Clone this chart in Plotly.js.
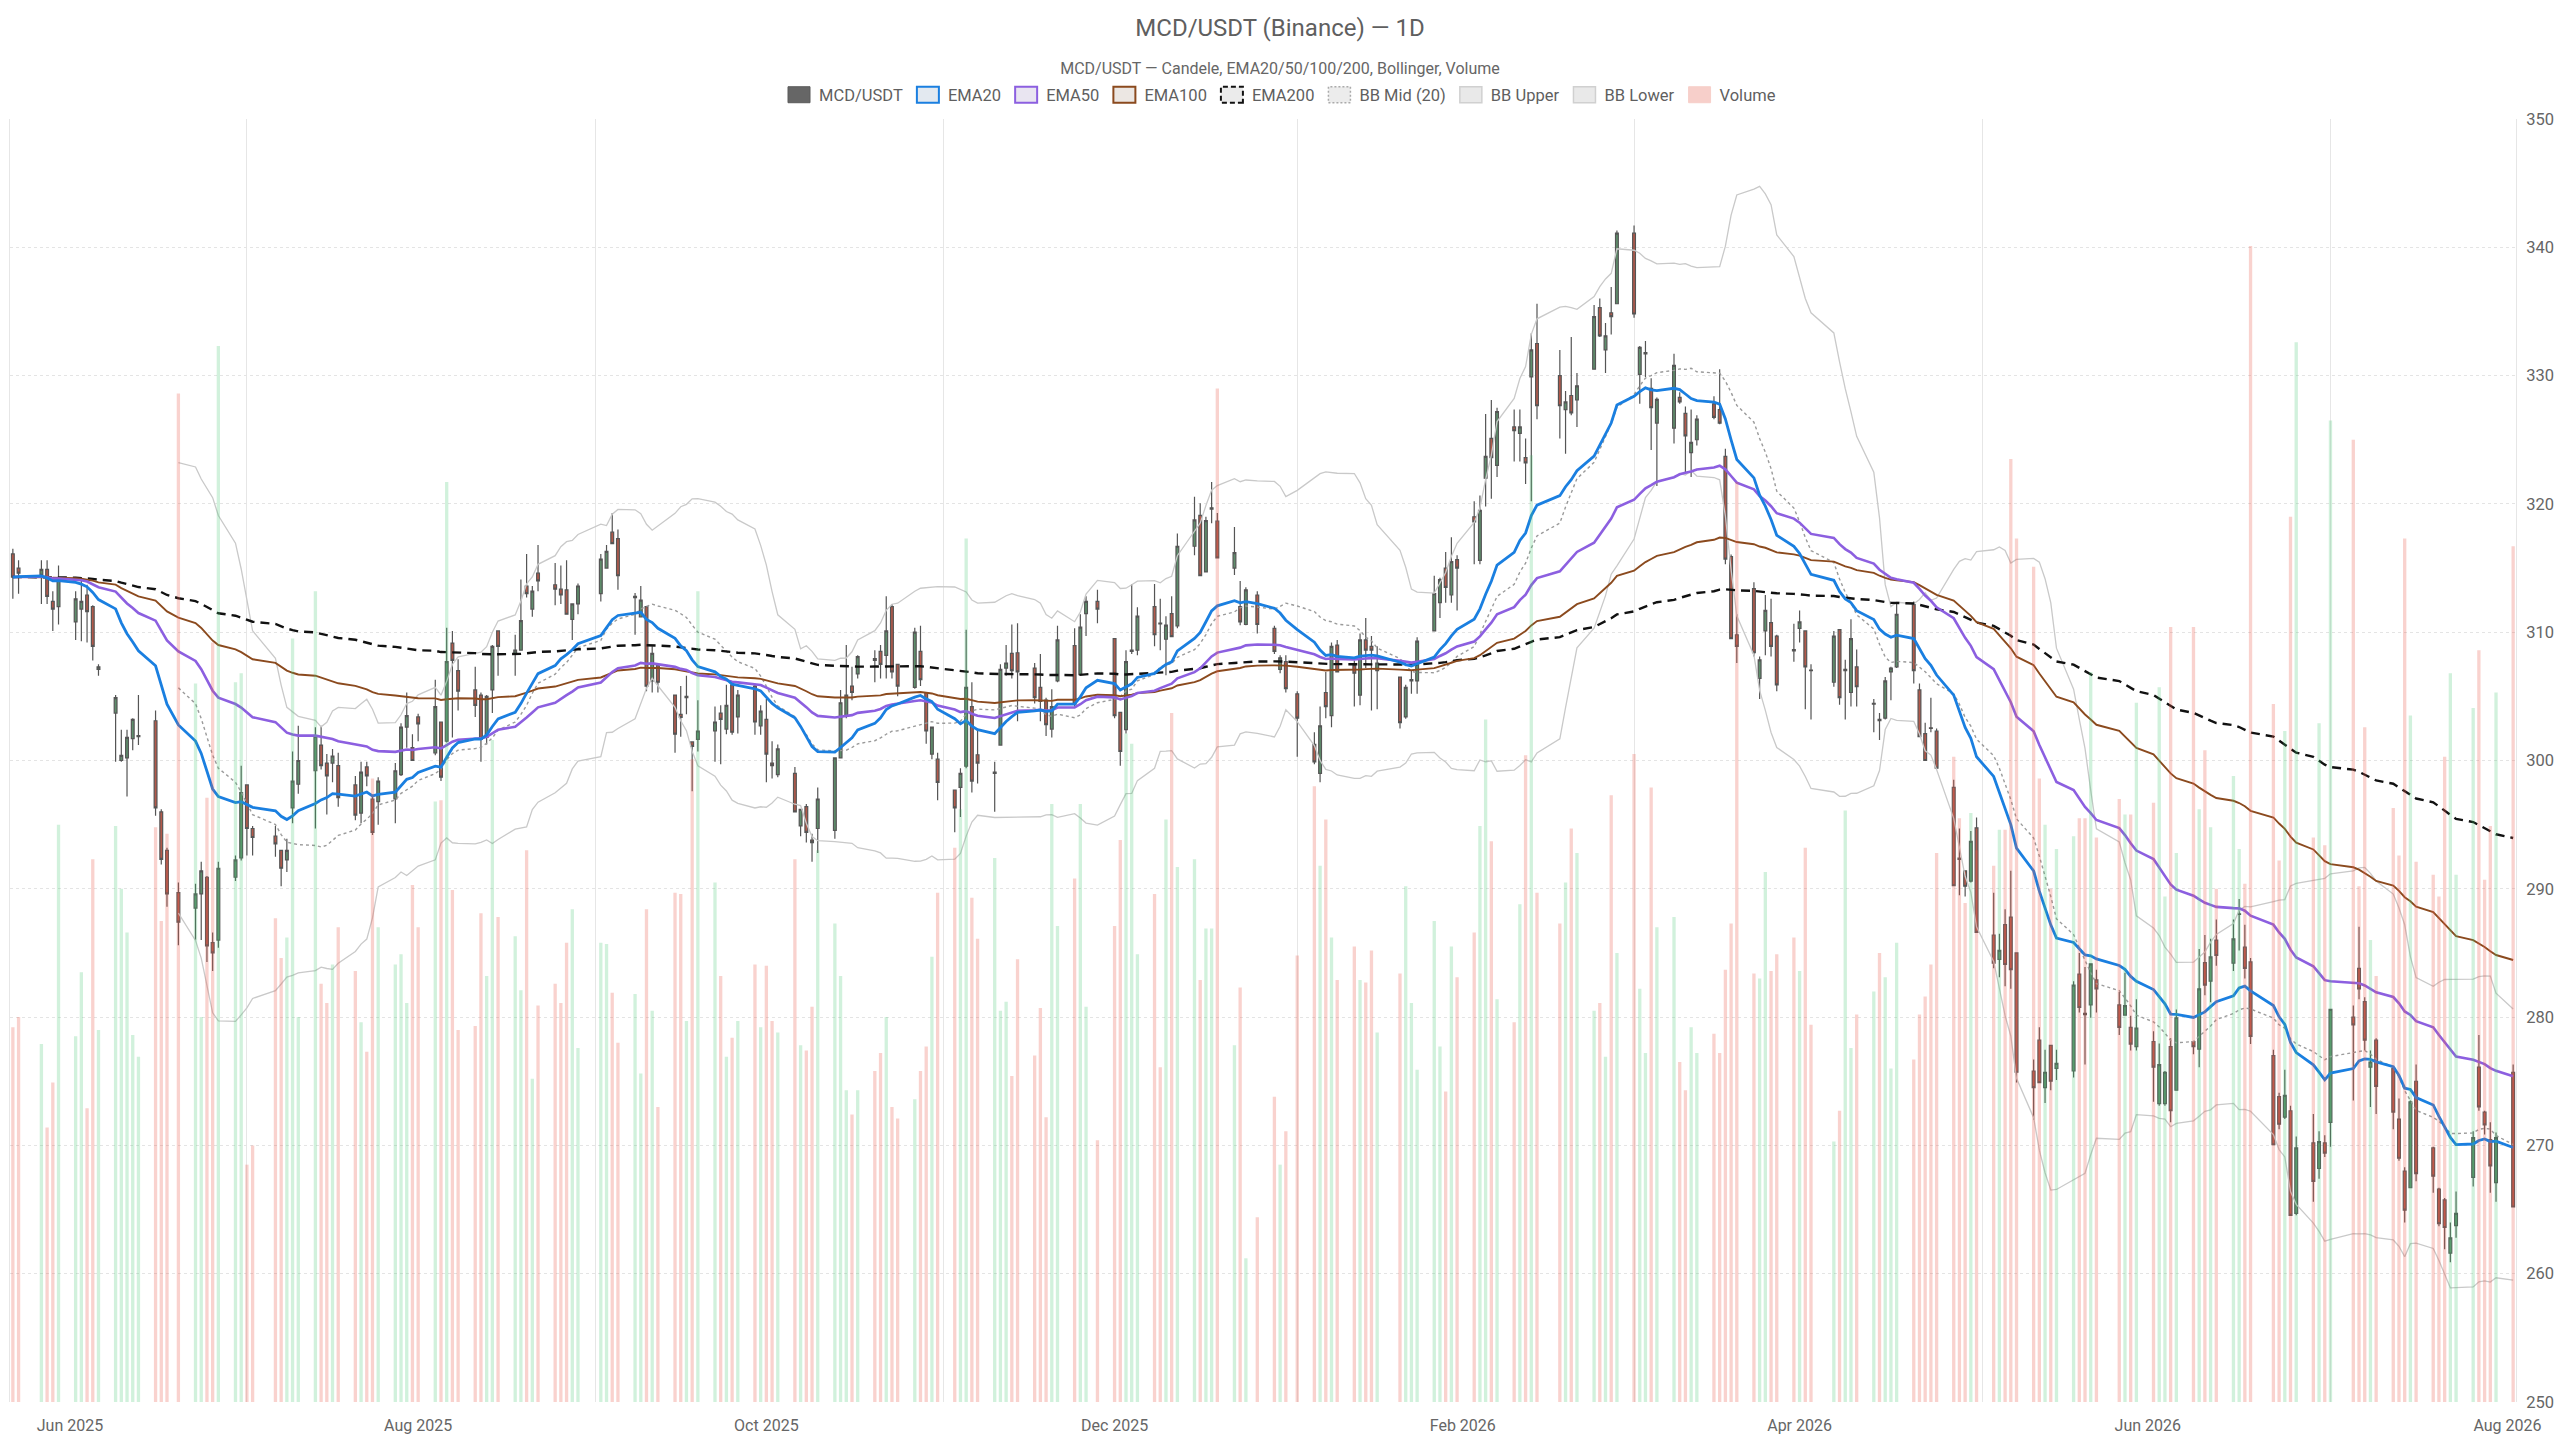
<!DOCTYPE html>
<html>
<head>
<meta charset="utf-8">
<script src="https://cdn.plot.ly/plotly-3.0.1.min.js"></script>
<style>
  html, body { margin: 0; padding: 0; background: #fff; }
  #chart { width: 2560px; height: 1440px; }
</style>
</head>
<body>
<div id="chart"></div>
<script>
const dates = [
  '2025-06-21','2025-06-22','2025-06-26','2025-06-27','2025-06-28','2025-06-29',
  '2025-07-02','2025-07-03','2025-07-04','2025-07-05','2025-07-06','2025-07-09','2025-07-10','2025-07-11','2025-07-12','2025-07-13',
  '2025-07-16','2025-07-17','2025-07-18','2025-07-20','2025-07-23','2025-07-24','2025-07-25','2025-07-26','2025-07-27','2025-07-30','2025-07-31',
  '2025-08-01','2025-08-02','2025-08-06','2025-08-07','2025-08-08','2025-08-09','2025-08-10','2025-08-13','2025-08-14','2025-08-15','2025-08-16',
  '2025-08-17','2025-08-20','2025-08-21','2025-08-22','2025-08-23','2025-08-24','2025-08-27','2025-08-28','2025-08-29','2025-08-30','2025-08-31',
  '2025-09-03','2025-09-04','2025-09-05','2025-09-06','2025-09-07','2025-09-10','2025-09-11','2025-09-12','2025-09-13','2025-09-14',
  '2025-09-17','2025-09-18','2025-09-19','2025-09-20','2025-09-21','2025-09-24','2025-09-25','2025-09-26','2025-09-27','2025-09-28',
  '2025-10-02','2025-10-03','2025-10-04','2025-10-05','2025-10-08','2025-10-09','2025-10-10','2025-10-11','2025-10-12','2025-10-15','2025-10-16',
  '2025-10-17','2025-10-18','2025-10-19','2025-10-22','2025-10-23','2025-10-24','2025-10-25','2025-10-26','2025-10-29','2025-10-30','2025-10-31',
  '2025-11-01','2025-11-02','2025-11-05','2025-11-06','2025-11-07','2025-11-08','2025-11-09','2025-11-12','2025-11-13','2025-11-14','2025-11-15',
  '2025-11-16','2025-11-19','2025-11-20','2025-11-21','2025-11-22','2025-11-23','2025-11-26','2025-11-27','2025-11-28','2025-11-29','2025-11-30',
  '2025-12-03','2025-12-04','2025-12-05','2025-12-06','2025-12-07','2025-12-10','2025-12-11','2025-12-12','2025-12-13','2025-12-14',
  '2025-12-17','2025-12-18','2025-12-19','2025-12-20','2025-12-21','2025-12-24','2025-12-25','2025-12-26','2025-12-28','2025-12-31',
  '2026-01-01','2026-01-02','2026-01-03','2026-01-04','2026-01-07','2026-01-08','2026-01-09','2026-01-10','2026-01-11','2026-01-14','2026-01-15',
  '2026-01-16','2026-01-17','2026-01-18','2026-01-21','2026-01-22','2026-01-23','2026-01-25','2026-01-28','2026-01-29','2026-01-30',
  '2026-02-01','2026-02-04','2026-02-05','2026-02-06','2026-02-07','2026-02-08','2026-02-11','2026-02-12','2026-02-13','2026-02-14',
  '2026-02-15','2026-02-19','2026-02-20','2026-02-21','2026-02-22','2026-02-25','2026-02-26','2026-02-27','2026-02-28',
  '2026-03-01','2026-03-04','2026-03-05','2026-03-06','2026-03-07','2026-03-08','2026-03-11','2026-03-12','2026-03-13','2026-03-14',
  '2026-03-15','2026-03-19','2026-03-20','2026-03-21','2026-03-22','2026-03-25','2026-03-26','2026-03-27','2026-03-28','2026-03-29',
  '2026-04-01','2026-04-02','2026-04-03','2026-04-04','2026-04-05','2026-04-08','2026-04-09','2026-04-10','2026-04-11','2026-04-12','2026-04-15',
  '2026-04-16','2026-04-17','2026-04-18','2026-04-19','2026-04-22','2026-04-23','2026-04-24','2026-04-25','2026-04-26','2026-04-29','2026-04-30',
  '2026-05-01','2026-05-02','2026-05-06','2026-05-07','2026-05-08','2026-05-09','2026-05-10','2026-05-13','2026-05-14','2026-05-15','2026-05-16',
  '2026-05-17','2026-05-20','2026-05-21','2026-05-22','2026-05-23','2026-05-24','2026-05-27','2026-05-28','2026-05-29','2026-05-30','2026-05-31',
  '2026-06-03','2026-06-04','2026-06-05','2026-06-06','2026-06-07','2026-06-10','2026-06-11','2026-06-12','2026-06-13','2026-06-14',
  '2026-06-17','2026-06-18','2026-06-19','2026-06-20','2026-06-21','2026-06-25','2026-06-26','2026-06-27','2026-06-28',
  '2026-07-01','2026-07-02','2026-07-03','2026-07-04','2026-07-05','2026-07-08','2026-07-09','2026-07-10','2026-07-11','2026-07-12','2026-07-15',
  '2026-07-16','2026-07-17','2026-07-18','2026-07-22','2026-07-23','2026-07-24','2026-07-25','2026-07-26','2026-07-29','2026-07-30','2026-07-31',
  '2026-08-01','2026-08-05','2026-08-06','2026-08-07','2026-08-08','2026-08-09','2026-08-12','2026-08-13','2026-08-14','2026-08-15','2026-08-16',
  '2026-08-19','2026-08-20','2026-08-21','2026-08-22','2026-08-23','2026-08-26','2026-08-27','2026-08-28','2026-08-29','2026-08-30',
  '2026-09-02'
];

const open = [
  316.1,315.0,314.5,314.9,312.4,312.0,310.8,311.8,312.9,312.0, 307.1,303.7,300.0,300.2,301.7,301.85,303.1,296.0,293.0,289.7,
  288.5,289.6,290.9,285.8,286.0,290.9,292.4,298.1,294.7,294.1, 293.0,292.25,296.3,298.15,299.2,301.2,299.8,299.8,299.6,298.1,
  295.9,299.5,297.0,296.8,297.0,298.9,302.6,301.0,303.4,300.6, 303.0,301.5,309.15,307.0,305.5,305.1,301.8,305.5,310.1,308.35,
  308.6,313.6,311.8,314.6,313.7,313.35,313.3,311.0,312.2,313.0, 315.0,317.8,317.3,312.7,311.2,312.0,306.2,307.4,305.1,303.6,
  304.9,301.45,301.65,302.3,303.7,302.45,305.9,303.4,305.8,302.7, 303.2,299.8,298.9,299.0,294.9,296.4,293.8,294.7,294.55,300.2,
  303.5,305.8,306.75,307.95,308.5,308.2,312.0,307.5,305.7,308.5, 305.3,300.5,300.1,297.7,297.9,299.55,304.2,300.45,299.0,301.2,
  307.2,308.35,308.4,307.2,305.7,304.7,302.45,306.2,308.95,306.7, 311.45,312.4,309.5,303.75,302.4,308.5,308.6,312.0,310.7,309.45,
  311.45,310.5,316.7,319.1,314.7,319.6,318.65,315.0,312.0,310.6, 312.9,310.3,307.1,307.7,305.2,301.25,299.0,305.3,303.5,309.0,
  307.4,305.1,309.4,308.9,307.0,306.5,303.4,306.2,306.2,310.1, 312.3,315.0,312.9,315.65,319.0,315.6,322.0,325.1,323.0,326.0,
  325.5,323.6,329.9,332.5,330.0,327.35,328.45,328.1,330.5,335.3, 332.0,334.9,335.6,341.1,330.1,331.7,329.0,326.3,325.9,328.3,
  327.05,324.0,325.0,327.8,327.35,323.7,315.9,309.8,313.4,306.4, 310.1,310.75,309.7,308.65,310.3,310.1,307.05,306.1,310.2,307.0,
  305.3,307.3,304.4,303.2,303.3,306.9,307.3,312.15,305.5,302.1, 302.55,302.3,297.9,292.4,291.4,290.6,294.75,286.4,284.5,287.2,
  287.8,285.0,275.8,278.2,274.5,277.8,276.0,275.8,283.35,280.3, 280.95,282.9,280.95,280.15,279.2,277.7,278.1,273.25,273.25,277.7,
  274.3,278.1,277.5,284.25,282.8,286.0,284.2,288.0,285.45,284.3, 277.0,273.8,272.2,272.7,264.7,270.2,268.2,270.2,271.8,280.0,
  283.8,281.2,276.1,278.2,276.0,272.05,268.0,266.7,275.0,269.8, 266.6,265.75,261.6,263.75,267.5,276.1,272.6,270.45,267.1,275.7
];

const high = [
  316.5,315.6,315.6,315.6,313.2,315.2,313.2,314.2,313.7,312.1, 307.5,305.1,302.4,302.4,303.3,305.1,303.9,296.2,293.2,290.5,
  290.4,292.1,291.0,286.6,292.1,292.6,299.6,298.1,294.9,294.9, 293.0,293.9,300.7,302.7,302.6,302.7,300.5,300.9,300.6,298.8,
  299.9,299.9,297.2,298.7,299.8,302.9,305.3,302.05,303.65,306.3, 303.0,310.35,310.1,307.9,307.3,305.3,305.1,309.0,310.1,309.8,
  314.1,316.1,313.6,316.8,315.4,315.2,315.6,312.2,313.8,316.1, 316.8,319.3,318.0,313.05,313.6,312.0,308.9,307.4,305.1,305.8,
  306.6,301.45,304.7,304.2,304.3,305.9,306.2,305.5,305.9,304.3, 304.8,301.5,301.25,299.5,296.2,296.6,294.3,297.9,300.2,305.5,
  309.0,307.3,308.2,308.6,309.0,312.8,312.2,307.5,310.35,310.5, 305.3,302.6,300.6,297.7,299.4,310.2,306.1,302.45,299.9,307.5,
  309.0,310.6,310.7,307.6,308.3,304.9,305.55,310.5,310.3,311.4, 312.8,313.3,309.5,303.75,308.6,313.75,311.95,313.75,312.6,311.25,
  312.8,317.7,320.55,320.05,319.0,321.7,319.3,318.2,314.0,313.5, 313.2,310.5,308.2,308.2,305.4,302.2,304.2,306.9,309.2,309.4,
  307.8,309.9,311.1,309.7,308.9,306.5,305.9,307.0,309.6,314.4, 314.25,316.25,317.4,316.0,320.2,320.65,327.0,328.1,327.5,327.35,
  327.35,325.1,333.3,335.6,332.0,328.8,333.0,330.2,335.5,336.0, 334.1,336.9,341.3,341.7,332.3,332.7,329.8,328.3,331.7,328.7,
  327.6,327.35,326.9,328.4,330.5,324.3,316.05,311.4,313.9,308.1, 312.9,312.6,309.8,310.65,311.7,310.1,307.5,310.1,310.2,307.85,
  311.0,308.65,304.8,303.7,306.5,307.3,312.2,312.4,306.0,302.95, 304.9,302.5,298.5,294.7,291.4,294.5,295.55,289.7,286.5,288.4,
  291.4,285.0,276.7,279.2,277.45,277.8,277.45,282.8,285.0,283.9, 284.2,283.7,281.95,283.45,280.1,281.4,278.9,277.95,275.8,278.35,
  280.6,278.1,285.3,286.4,286.1,287.6,287.6,289.2,287.2,284.6, 277.45,274.1,275.9,273.1,270.7,272.45,271.1,270.8,280.6,280.9,
  287.05,281.55,277.4,278.35,276.1,273.65,268.3,273.5,276.3,269.9, 266.7,265.9,264.0,266.4,271.1,278.6,272.7,271.8,271.0,276.3
];

const low = [
  312.6,313.0,312.2,312.2,310.1,310.6,309.4,309.3,309.2,307.8, 306.6,299.9,299.9,297.2,300.8,301.2,295.7,291.9,288.6,285.6,
  286.0,286.0,284.3,283.6,285.4,290.6,292.2,292.6,292.6,292.5, 290.2,291.3,295.1,297.4,294.7,299.3,295.8,298.3,296.4,295.35,
  295.1,298.0,294.2,295.0,295.1,298.8,301.0,300.0,301.5,300.4, 298.4,301.4,301.8,303.9,303.4,299.9,301.25,303.7,306.6,306.6,
  308.6,312.7,311.2,313.2,312.1,312.2,311.4,309.4,311.4,312.4, 315.0,316.9,313.3,309.8,311.2,305.4,305.3,305.3,300.6,301.85,
  303.6,297.6,300.7,299.9,299.7,302.05,302.0,302.1,302.0,302.0, 298.3,298.6,298.7,296.0,294.1,293.6,292.1,292.8,293.9,300.2,
  303.3,304.7,306.4,306.1,306.4,306.4,306.4,305.0,305.6,305.8, 301.3,300.1,296.9,294.4,295.6,299.4,297.5,298.2,296.0,301.2,
  306.6,306.4,303.05,304.45,303.05,301.9,301.8,306.1,304.2,306.65, 309.7,310.7,303.3,299.6,302.1,308.3,308.2,308.9,308.6,306.65,
  309.6,310.3,316.0,314.4,314.7,318.5,315.8,314.45,310.55,310.55, 309.9,308.3,306.8,305.3,300.3,299.7,298.3,303.3,302.6,306.9,
  304.2,304.3,307.2,303.9,304.0,302.5,303.25,305.2,305.2,310.1, 311.1,312.3,312.3,311.7,315.3,315.3,319.8,320.4,322.1,323.3,
  323.3,321.55,320.2,326.6,325.1,323.9,326.9,326.0,330.5,333.0, 330.2,333.2,335.6,334.5,327.8,329.9,324.2,321.4,324.7,327.8,
  322.4,322.1,324.55,326.6,326.2,315.3,309.5,307.6,308.1,304.8, 308.2,308.1,305.4,307.7,309.2,304.0,303.2,305.75,304.35,303.2,
  304.2,304.2,302.2,301.6,303.2,304.7,307.2,306.0,301.85,300.0, 302.2,299.4,290.25,289.5,289.4,290.5,286.6,283.8,283.1,282.4,
  282.2,274.9,272.0,274.9,273.3,274.3,275.1,275.3,280.35,276.3, 279.95,280.35,278.6,280.1,277.4,277.4,273.4,273.1,273.1,271.8,
  274.3,277.1,276.1,281.7,281.15,284.0,283.6,285.2,283.0,277.9, 270.05,271.25,272.05,264.55,264.55,265.6,267.4,269.1,269.9,273.5,
  281.4,277.4,273.0,272.45,271.25,268.8,264.0,266.7,267.2,266.3, 263.7,261.9,260.9,262.8,266.8,272.7,270.85,266.3,265.6,265.2
];

const close = [
  314.3,314.6,314.9,312.8,311.8,314.2,312.6,312.4,311.6,308.9, 307.3,304.9,300.4,301.8,303.2,301.95,296.3,292.3,289.6,287.4,
  289.6,291.4,285.55,285.0,291.6,292.25,297.5,294.7,294.0,293.5, 291.6,293.0,298.4,300.0,301.9,299.6,298.8,300.35,297.1,295.75,
  299.1,298.8,294.4,298.4,299.2,302.6,303.5,300.0,302.85,304.2, 298.7,307.7,307.8,305.4,304.3,301.65,305.0,308.9,308.9,308.6,
  310.9,313.0,313.2,314.0,313.35,312.9,311.4,312.2,313.6,315.7, 316.3,316.9,314.4,312.8,312.5,305.8,308.35,306.1,302.05,303.35,
  305.0,301.1,302.3,303.0,303.2,304.3,302.2,305.1,303.0,303.85, 300.5,299.6,300.9,296.0,296.2,294.4,293.6,297.0,300.2,304.5,
  305.1,305.3,308.1,307.8,307.5,310.1,306.9,305.8,310.0,306.3, 302.3,302.6,298.3,296.3,299.0,305.7,298.4,299.8,299.1,307.1,
  307.6,307.0,306.9,304.9,304.6,302.8,304.2,309.4,304.4,310.4, 312.4,311.8,303.5,300.7,307.7,308.6,311.25,309.8,310.65,310.55,
  309.65,316.7,318.75,314.4,318.7,319.7,315.8,316.2,310.8,313.3, 310.6,308.5,308.0,305.6,303.3,299.9,302.7,304.2,308.9,306.9,
  306.8,309.4,308.6,308.6,307.6,302.95,305.7,306.3,309.3,313.0, 314.1,313.5,315.5,315.0,318.6,319.5,323.7,323.6,327.2,325.7,
  326.0,323.2,332.0,327.65,327.65,327.95,327.1,329.2,334.6,333.1, 333.1,334.6,341.1,334.8,332.2,331.8,327.5,328.15,330.8,327.95,
  325.3,324.8,326.6,326.75,326.3,315.7,309.5,308.9,308.4,307.85, 311.7,308.9,305.9,308.55,310.8,307.3,307.0,309.7,304.9,307.1,
  309.5,305.75,304.45,303.1,306.2,307.2,311.4,307.0,301.85,300.0, 302.5,299.4,290.25,292.3,290.2,293.7,286.6,284.2,285.2,284.1,
  283.7,275.7,274.5,274.9,275.7,275.0,276.4,282.5,280.75,280.2, 284.15,282.2,279.2,280.9,277.9,279.15,276.1,276.3,275.7,272.7,
  279.95,277.7,282.2,282.5,284.7,284.8,286.1,288.05,283.8,278.5, 270.05,271.65,273.9,264.55,269.8,267.2,270.3,269.4,280.6,279.4,
  282.2,278.2,276.5,274.6,272.6,269.0,264.95,273.4,267.8,267.6, 263.9,263.6,262.8,264.7,270.6,273.0,271.6,268.4,270.6,265.2
];

// volume, thousands
const volume = [
  29.2,30.0,27.9,21.4,24.9,45.0,28.5,33.5,22.9,42.3, 29.0,44.9,40.0,36.6,28.6,26.9,44.8,37.5,44.3,78.6,
  56.0,30.0,47.1,59.2,82.3,56.1,56.8,18.5,20.0,37.7, 34.6,36.2,59.5,30.0,63.2,32.6,31.1,34.1,37.0,33.6,
  29.6,27.3,48.6,37.0,34.1,34.9,31.1,40.3,37.0,46.8, 46.9,71.7,39.9,29.0,29.3,38.1,33.2,51.6,37.8,36.3,
  32.1,43.0,25.2,30.9,32.6,31.1,35.8,38.4,27.6,35.8, 35.7,31.9,28.0,31.8,25.6,38.4,30.5,23.0,39.7,39.6,
  29.7,50.1,63.2,40.5,33.2,26.9,28.4,29.7,34.1,29.2, 34.0,29.7,28.8,42.3,27.8,27.4,30.8,43.0,37.3,33.2,
  24.3,22.4,24.3,25.8,27.2,30.0,23.0,22.1,23.6,25.8, 27.7,34.7,39.7,43.2,46.2,67.3,39.3,36.1,42.4,30.5,
  31.2,25.4,34.5,27.0,30.7,22.2,46.6,37.1,40.8,46.6, 30.8,20.4,37.1,43.8,52.1,51.3,34.9,39.6,26.1,45.4,
  53.7,41.7,42.3,32.9,36.9,36.9,79.0,27.8,32.3,11.2, 14.4,23.8,18.5,21.1,34.8,48.0,41.8,45.4,36.2,32.9,
  35.5,32.9,32.7,35.2,28.8,33.4,40.2,31.1,25.9,37.5, 27.7,24.2,35.5,33.1,36.6,44.9,53.2,43.7,31.4,29.6,
  38.8,50.4,73.8,39.7,37.3,40.5,44.7,42.8,30.5,31.1, 26.9,47.3,35.0,50.5,32.2,27.2,47.9,37.0,37.8,26.5,
  24.3,29.2,27.2,28.7,27.2,33.7,37.3,71.7,33.4,33.0, 41.3,33.6,34.9,36.2,33.6,43.2,29.4,20.3,22.7,46.1,
  27.6,30.2,32.0,35.0,33.1,26.0,35.8,26.7,30.2,31.6, 34.1,42.8,50.3,45.5,38.9,45.9,43.0,41.8,44.6,44.6,
  73.5,67.3,65.1,48.6,45.0,40.0,43.1,44.1,45.5,45.5, 56.9,44.0,47.0,45.8,45.8,54.5,46.7,55.7,39.4,60.4,
  42.8,60.4,46.2,50.8,44.8,40.0,48.8,43.1,40.4,90.1, 54.4,42.2,52.3,69.0,82.6,44.0,52.9,43.4,76.5,75.0,
  40.2,52.6,36.0,33.2,46.3,42.6,67.3,53.5,42.1,41.1, 39.4,50.3,56.8,41.1,54.1,58.6,40.7,44.9,55.3,66.7
];

const yTicks = [250, 260, 270, 280, 290, 300, 310, 320, 330, 340, 350];
// two-month periods: label sits mid-period, grid line on the period boundary
const periodMid = ['2025-07-01','2025-08-31','2025-10-31','2025-12-31','2026-03-02','2026-04-30','2026-06-30','2026-09-01'];
const periodLabels = ['Jun 2025','Aug 2025','Oct 2025','Dec 2025','Feb 2026','Apr 2026','Jun 2026','Aug 2026'];
const periodStart = ['2025-08-01','2025-10-01','2025-12-01','2026-02-01','2026-04-01','2026-06-01','2026-08-01'];

// indicators computed from the closes
function ema(values, span) {
  const a = 2 / (span + 1);
  const out = [];
  values.forEach((v, i) => out.push(i === 0 ? v : a * v + (1 - a) * out[i - 1]));
  return out;
}

function bollinger(values, n, k) {
  const mid = [], up = [], lo = [];
  values.forEach((v, i) => {
    if (i < n - 1) { mid.push(null); up.push(null); lo.push(null); return; }
    const win = values.slice(i - n + 1, i + 1);
    const m = win.reduce((s, x) => s + x, 0) / n;
    const sd = Math.sqrt(win.reduce((s, x) => s + (x - m) * (x - m), 0) / (n - 1));
    mid.push(m); up.push(m + k * sd); lo.push(m - k * sd);
  });
  return {mid, up, lo};
}

const ema20 = ema(close, 20);
const ema50 = ema(close, 50);
const ema100 = ema(close, 100);
const ema200 = ema(close, 200);
const bb = bollinger(close, 20, 2);

const volColors = close.map((c, i) => c >= open[i] ? 'rgba(72,199,116,0.25)' : 'rgba(235,94,80,0.28)');

const FONT = 'Roboto, "Open Sans", sans-serif';

function line(y, name, color, width, dash) {
  return {
    type: 'scatter', mode: 'lines', x: dates, y, name,
    line: {color, width, dash: dash || 'solid'},
    showlegend: false, hoverinfo: 'skip', connectgaps: false
  };
}

// legend proxies: square swatches like the reference legend
function swatch(name, fill, stroke, width) {
  return {
    type: 'bar', x: [dates[0]], y: [null], yaxis: 'y2', name,
    marker: {color: fill, line: {color: stroke, width}},
    hoverinfo: 'skip', showlegend: true
  };
}

const data = [
  {
    type: 'bar', x: dates, y: volume, yaxis: 'y2', name: 'Volume',
    marker: {color: volColors, line: {width: 0}},
    showlegend: false, hoverinfo: 'skip'
  },
  line(bb.up, 'BB Upper', '#c9c9c9', 1.3),
  line(bb.lo, 'BB Lower', '#c9c9c9', 1.3),
  line(bb.mid, 'BB Mid (20)', '#9a9a9a', 1.4, '3px,3px'),
  line(ema200, 'EMA200', '#111111', 2.4, '9px,6px'),
  line(ema100, 'EMA100', '#8b4a1e', 1.9),
  line(ema50, 'EMA50', '#8c5fe0', 2.6),
  line(ema20, 'EMA20', '#1a7fe0', 2.8),
  {
    type: 'candlestick', x: dates, open, high, low, close, name: 'MCD/USDT',
    increasing: {fillcolor: '#5e8e6b', line: {color: '#555555', width: 1.2}},
    decreasing: {fillcolor: '#b3594a', line: {color: '#555555', width: 1.2}},
    whiskerwidth: 0, showlegend: false, hoverinfo: 'skip'
  },
  swatch('MCD/USDT', '#666666', '#5a5a5a', 1),
  swatch('EMA20', '#e3e9f0', '#1a7fe0', 2),
  swatch('EMA50', '#e9e5f1', '#8c5fe0', 2),
  swatch('EMA100', '#ece7e3', '#8b4a1e', 2),
  swatch('EMA200', '#ebebeb', '#111111', 2),
  swatch('BB Mid (20)', '#ececec', '#aaaaaa', 1.5),
  swatch('BB Upper', '#e9e9e9', '#d0d0d0', 1.5),
  swatch('BB Lower', '#e9e9e9', '#d0d0d0', 1.5),
  swatch('Volume', '#f7cfca', '#f7cfca', 1)
];

const layout = {
  width: 2560,
  height: 1440,
  paper_bgcolor: '#ffffff',
  plot_bgcolor: '#ffffff',
  font: {family: FONT, size: 16, color: '#666666'},
  margin: {l: 10, r: 44, t: 119, b: 38},
  title: {
    text: 'MCD/USDT (Binance) — 1D',
    x: 0.5, xanchor: 'center',
    y: 1 - 28 / 1440, yref: 'container', yanchor: 'middle',
    font: {family: FONT, size: 24, color: '#5f5f5f'},
    subtitle: {
      text: 'MCD/USDT — Candele, EMA20/50/100/200, Bollinger, Volume',
      font: {family: FONT, size: 16, color: '#666666'}
    }
  },
  legend: {
    orientation: 'h',
    x: 0.5, xref: 'container', xanchor: 'center',
    y: 1 - 95 / 1440, yref: 'container', yanchor: 'middle',
    font: {family: FONT, size: 16.5, color: '#5f5f5f'},
    traceorder: 'normal',
    bgcolor: 'rgba(0,0,0,0)'
  },
  barmode: 'overlay',
  bargap: 0.42,
  hovermode: false,
  xaxis: {
    type: 'date',
    rangeslider: {visible: false},
    tickmode: 'array',
    tickvals: periodMid,
    ticktext: periodLabels,
    showgrid: false,
    zeroline: false,
    showline: false,
    ticks: '',
    ticklabelstandoff: 12,
    tickfont: {family: FONT, size: 16, color: '#666666'},
    minor: {
      tickmode: 'array',
      tickvals: periodStart,
      showgrid: true,
      gridcolor: '#e6e6e6',
      gridwidth: 1,
      ticks: ''
    }
  },
  yaxis: {
    side: 'right',
    range: [yTicks[0], yTicks[yTicks.length - 1]],
    tickvals: yTicks,
    showgrid: true,
    gridcolor: '#e4e4e4',
    griddash: 'dot',
    zeroline: false,
    showline: true,
    mirror: true,
    linecolor: '#e6e6e6',
    ticks: '',
    ticklabelstandoff: 6,
    tickfont: {family: FONT, size: 16.5, color: '#666666'}
  },
  yaxis2: {
    overlaying: 'y',
    range: [0, 100],
    visible: false,
    showgrid: false,
    zeroline: false
  }
};

const legendDash = {'EMA200': '5,3', 'BB Mid (20)': '2,2'};

Plotly.newPlot('chart', data, layout, {displayModeBar: false, staticPlot: true}).then(gd => {
  gd.querySelectorAll('.legend .traces').forEach(g => {
    const label = g.querySelector('.legendtext');
    const p = g.querySelector('path.legendbar') || g.querySelector('.legendpoints path');
    if (!label || !p) return;
    p.setAttribute('d', 'M11,8H-11V-8H11Z');
    const dash = legendDash[label.textContent];
    if (dash) p.style.strokeDasharray = dash;
  });
});
</script>
</body>
</html>
